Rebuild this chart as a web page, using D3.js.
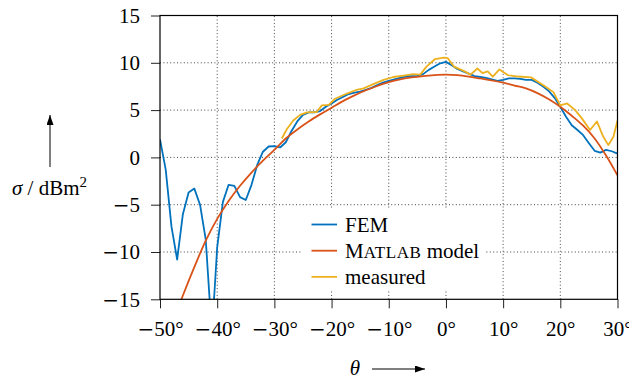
<!DOCTYPE html>
<html>
<head>
<meta charset="utf-8">
<script src="https://cdn.jsdelivr.net/npm/d3@7"></script>
<style>
  html, body { margin: 0; padding: 0; background: #fff; }
  svg { display: block; }
</style>
</head>
<body>
<svg id="chart" width="629" height="382"></svg>
<script>
// Radar cross section versus incidence angle
const xTicks = [-50, -40, -30, -20, -10, 0, 10, 20, 30];
const yTicks = [-15, -10, -5, 0, 5, 10, 15];

// FEM simulation
const femTheta = [-50, -49, -48, -47, -46, -45, -44, -43, -42, -41, -40.5, -40, -39, -38, -37, -36, -35, -34, -33, -32,
  -31, -30, -29, -28, -27, -26, -25, -24, -23, -22, -21, -20, -19, -18, -17, -16, -15, -14, -13, -12,
  -11, -10, -9, -8, -7, -6, -5, -4, -3, -2, -1, 0, 1, 2, 3, 4, 5, 6, 7, 8,
  9, 10, 11, 12, 13, 14, 15, 16, 17, 18, 19, 20, 21, 22, 23, 24, 25, 26, 27, 28, 29, 30];
const femSigma = [1.9, -1.3, -7.3, -10.8, -6.0, -3.7, -3.3, -5.0, -8.7, -18.0, -14.5, -9.5, -4.7, -2.9, -3.0, -4.2, -4.5, -2.9, -0.8, 0.6,
  1.15, 1.2, 1.05, 1.6, 2.8, 3.8, 4.5, 4.75, 4.75, 4.9, 5.35, 5.7, 6.1, 6.4, 6.7, 6.85, 6.95, 7.15, 7.35, 7.65,
  7.9, 8.1, 8.25, 8.4, 8.55, 8.6, 8.6, 8.8, 9.25, 9.6, 9.95, 10.1, 9.75, 9.35, 9.1, 8.85, 8.6, 8.5, 8.4, 8.25,
  8.1, 8.2, 8.35, 8.35, 8.3, 8.2, 8.2, 7.9, 7.5, 7.0, 6.3, 5.35, 4.3, 3.4, 2.9, 2.35, 1.5, 0.7, 0.5, 0.8, 0.65, 0.4];

// analytic model
const modelTheta = [-48, -46, -44, -42, -40, -38, -36, -34, -32, -30, -28, -26, -24, -22, -20, -18, -16, -14, -12, -10,
  -8, -6, -4, -2, 0, 2, 4, 6, 8, 10, 12, 14, 16, 18, 20, 22, 24, 26, 28, 30];
const modelSigma = [-17.8, -14.6, -11.6, -8.8, -6.5, -4.6, -3.0, -1.6, -0.35, 0.8, 2.0, 2.95, 3.8, 4.55, 5.25, 5.95, 6.55, 7.1, 7.55, 7.95,
  8.25, 8.45, 8.6, 8.7, 8.75, 8.7, 8.55, 8.35, 8.15, 7.9, 7.6, 7.3, 6.8, 6.15, 5.35, 4.4, 3.35, 2.0, 0.2, -1.9];

// measurement
const measTheta = [-28.7, -27.8, -26.7, -25.5, -24.3, -22.6, -21.7, -20.5, -19.4, -17.3, -15.6, -14.4, -12.7, -10.9, -9.2, -7.4, -5.7, -4.5, -3.4, -1.9,
  -0.4, 0.3, 1.4, 3.1, 4.3, 5.5, 6.4, 7.3, 8.2, 9.35, 10.8, 12.6, 14.9, 15.3, 17.1, 18.8, 20.0, 21.2, 22.6, 23.8,
  25.2, 26.4, 27.5, 28.4, 29.3, 30.0];
const measSigma = [2.0, 3.0, 3.9, 4.5, 4.75, 4.8, 5.5, 5.55, 6.2, 6.75, 7.15, 7.3, 7.75, 8.2, 8.5, 8.65, 8.8, 8.75, 9.6, 10.4,
  10.55, 10.5, 9.6, 9.15, 8.75, 9.4, 8.9, 9.1, 8.55, 9.3, 8.7, 8.55, 8.45, 8.3, 7.6, 6.9, 5.5, 5.7, 5.0, 4.1,
  2.9, 3.8, 2.2, 1.3, 2.2, 3.9];

const colors = { fem: "#0072BD", model: "#D95319", meas: "#EDB120" };
const serif = "'Liberation Serif', 'Times New Roman', serif";
const fontSize = 21;

const svg = d3.select("#chart");
const plotLeft = 160, plotRight = 617.5, plotTop = 15.5, plotBottom = 299.3;

const x = d3.scaleLinear().domain([-50, 30]).range([plotLeft, plotRight]);
const y = d3.scaleLinear().domain([-15, 15]).range([plotBottom, plotTop]);

const defs = svg.append("defs");

// dotted grid
const grid = svg.append("g").attr("stroke", "#444").attr("stroke-width", 1)
  .attr("stroke-dasharray", "1,2.4").attr("fill", "none");
xTicks.slice(1, -1).forEach(t => grid.append("line")
  .attr("x1", x(t)).attr("x2", x(t)).attr("y1", plotBottom).attr("y2", plotTop));
yTicks.slice(1, -1).forEach(t => grid.append("line")
  .attr("x1", plotLeft).attr("x2", plotRight).attr("y1", y(t)).attr("y2", y(t)));

// curves, clipped to the plot area
defs.append("clipPath").attr("id", "plotClip")
  .append("rect").attr("x", plotLeft).attr("y", plotTop)
  .attr("width", plotRight - plotLeft).attr("height", plotBottom - plotTop);

const plot = svg.append("g").attr("clip-path", "url(#plotClip)");
function drawSeries(th, sg, color, curve) {
  const pts = th.map((t, i) => [t, sg[i]]);
  plot.append("path").datum(pts)
    .attr("fill", "none").attr("stroke", color).attr("stroke-width", 1.8)
    .attr("stroke-linejoin", "round")
    .attr("d", d3.line().x(d => x(d[0])).y(d => y(d[1])).curve(curve));
}
drawSeries(femTheta, femSigma, colors.fem, d3.curveLinear);
drawSeries(modelTheta, modelSigma, colors.model, d3.curveMonotoneX);
drawSeries(measTheta, measSigma, colors.meas, d3.curveLinear);

// axes
const xAxis = d3.axisBottom(x).tickValues(xTicks).tickSize(9).tickPadding(13);
const yAxis = d3.axisLeft(y).tickValues(yTicks).tickSize(9).tickPadding(11);

const gx = svg.append("g").attr("transform", `translate(0,${plotBottom})`).call(xAxis);
const gy = svg.append("g").attr("transform", `translate(${plotLeft},0)`).call(yAxis);

// tick labels with a wide math-style minus sign
function styleAxis(g, suffix) {
  g.attr("font-family", serif).attr("font-size", fontSize);
  g.select(".domain").remove();
  g.selectAll(".tick line").attr("stroke", "#222").attr("stroke-width", 1);
  g.selectAll(".tick text").attr("fill", "#000").each(function (d) {
    const t = d3.select(this).text(null);
    if (d < 0) t.append("tspan").attr("font-family", "'DejaVu Serif', serif").attr("font-size", 20).text("\u2212");
    t.append("tspan").text(Math.abs(d) + suffix);
  });
}
styleAxis(gx, "°");
styleAxis(gy, "");

// frame
svg.append("rect").attr("x", plotLeft).attr("y", plotTop)
  .attr("width", plotRight - plotLeft).attr("height", plotBottom - plotTop)
  .attr("fill", "none").attr("stroke", "#000").attr("stroke-width", 1.2);

// legend
const legend = svg.append("g").attr("font-family", serif);
legend.append("rect").attr("x", 302).attr("y", 209).attr("width", 183).attr("height", 80).attr("fill", "#fff");
const entries = [
  { key: "fem", label: ["FEM"] },
  { key: "model", label: ["M", "ATLAB", " model"] },
  { key: "meas", label: ["measured"] }
];
entries.forEach((e, i) => {
  const yy = 224.5 + i * 26.2;
  legend.append("line").attr("x1", 311.5).attr("x2", 337).attr("y1", yy).attr("y2", yy)
    .attr("stroke", colors[e.key]).attr("stroke-width", 1.8);
  const txt = legend.append("text").attr("x", 345).attr("y", yy + 7)
    .attr("font-size", fontSize).attr("fill", "#000");
  if (e.label.length === 1) {
    txt.text(e.label[0]);
  } else {
    txt.append("tspan").text(e.label[0]);
    txt.append("tspan").attr("font-size", 17).attr("letter-spacing", 0.6).text(e.label[1]);
    txt.append("tspan").text(e.label[2]);
  }
});

// arrow heads
defs.append("marker").attr("id", "arrow")
  .attr("viewBox", "0 0 10 7").attr("refX", 10).attr("refY", 3.5)
  .attr("markerWidth", 10).attr("markerHeight", 7).attr("markerUnits", "userSpaceOnUse")
  .attr("orient", "auto")
  .append("path").attr("d", "M0,0 L10,3.5 L0,7 Z").attr("fill", "#000");

// y axis label
const yl = svg.append("text").attr("x", 49.5).attr("y", 195).attr("text-anchor", "middle")
  .attr("font-family", serif).attr("font-size", fontSize).attr("fill", "#000");
yl.append("tspan").attr("font-style", "italic").text("σ");
yl.append("tspan").text(" / dBm");
yl.append("tspan").attr("dy", -8).attr("font-size", 15).text("2");
svg.append("line").attr("x1", 50).attr("x2", 50).attr("y1", 167).attr("y2", 115)
  .attr("stroke", "#000").attr("stroke-width", 1).attr("marker-end", "url(#arrow)");

// x axis label
svg.append("text").attr("x", 355).attr("y", 375).attr("text-anchor", "middle")
  .attr("font-family", serif).attr("font-size", fontSize).attr("font-style", "italic")
  .attr("fill", "#000").text("θ");
svg.append("line").attr("x1", 372).attr("x2", 425).attr("y1", 369).attr("y2", 369)
  .attr("stroke", "#000").attr("stroke-width", 1).attr("marker-end", "url(#arrow)");
</script>
</body>
</html>
